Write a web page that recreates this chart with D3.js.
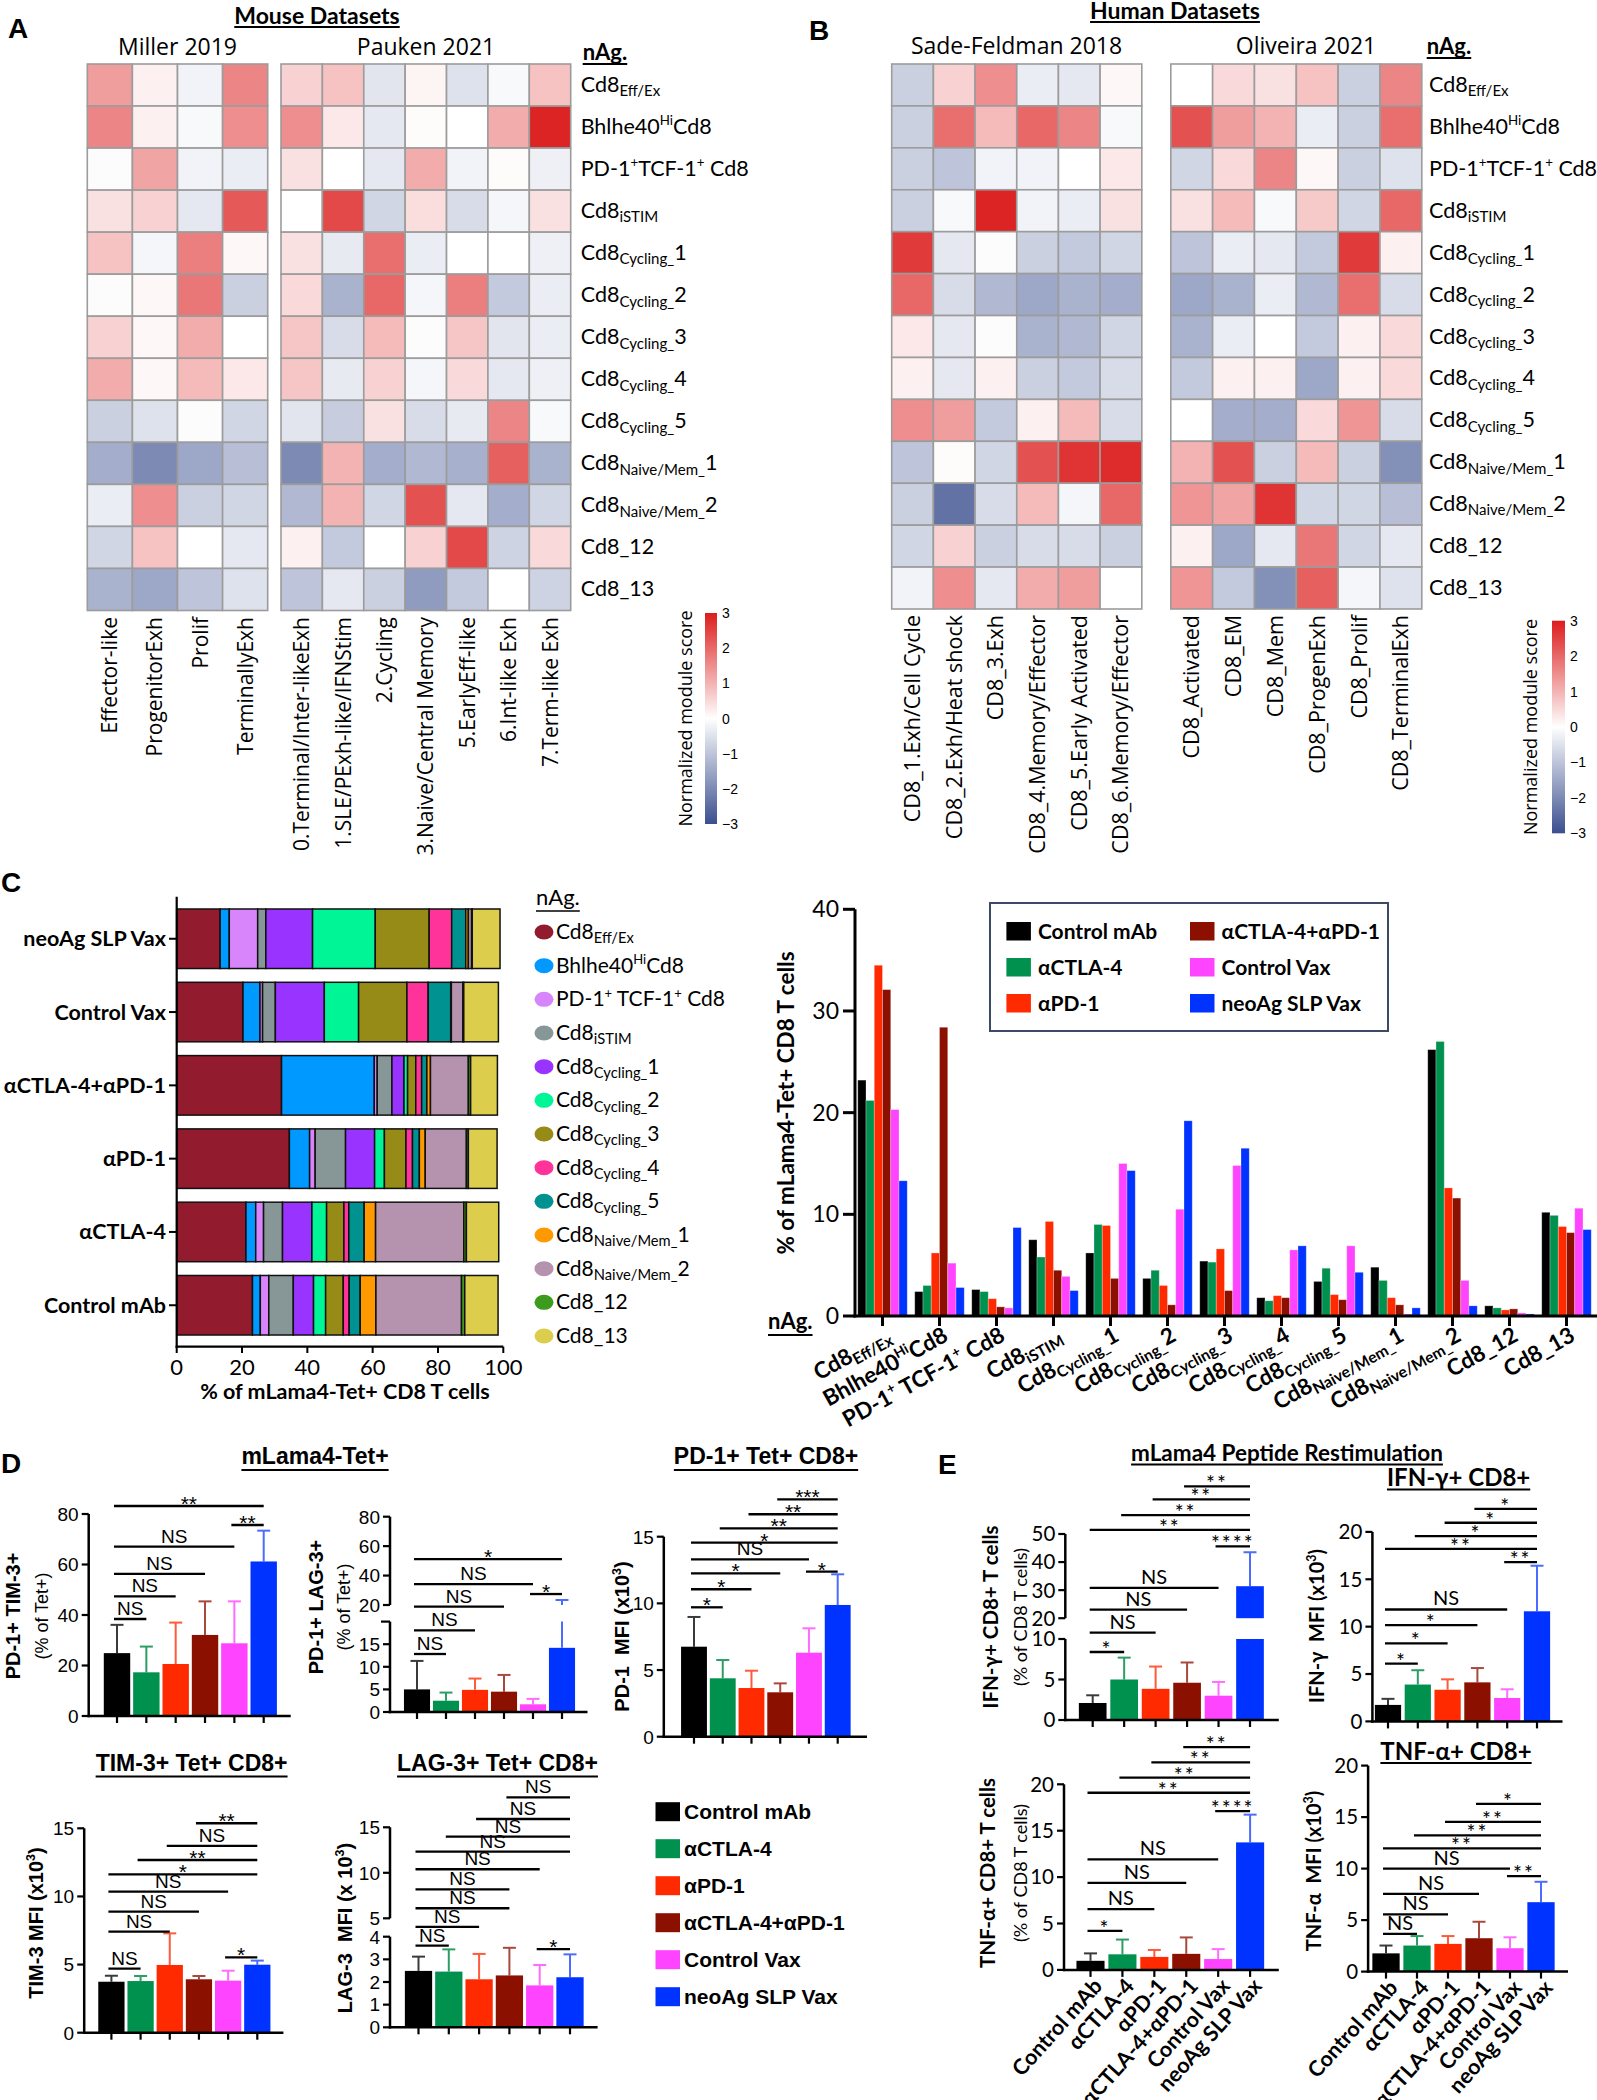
<!DOCTYPE html>
<html><head><meta charset="utf-8">
<script src="https://cdn.jsdelivr.net/npm/d3@7"></script>
<style>body{margin:0;background:#fff}svg{display:block}</style>
</head><body>
<svg id="fig" width="1597" height="2100"></svg>
<script>
// ================= DATA =================
const clusterLabels = ["Cd8_{Eff/Ex}","Bhlhe40^{Hi}Cd8","PD-1^{+}TCF-1^{+} Cd8","Cd8_{iSTIM}","Cd8_{Cycling_}1","Cd8_{Cycling_}2","Cd8_{Cycling_}3","Cd8_{Cycling_}4","Cd8_{Cycling_}5","Cd8_{Naive/Mem_}1","Cd8_{Naive/Mem_}2","Cd8_12","Cd8_13"];
const clusterLegendLabels = ["Cd8_{Eff/Ex}","Bhlhe40^{Hi}Cd8","PD-1^{+} TCF-1^{+} Cd8","Cd8_{iSTIM}","Cd8_{Cycling_}1","Cd8_{Cycling_}2","Cd8_{Cycling_}3","Cd8_{Cycling_}4","Cd8_{Cycling_}5","Cd8_{Naive/Mem_}1","Cd8_{Naive/Mem_}2","Cd8_12","Cd8_13"];

const millerColumns = ["Effector-like","ProgenitorExh","Prolif","TerminallyExh"];
const millerScores = [
 [1.3,0.2,-0.2,1.6],[1.6,0.2,-0.1,1.5],[-0.05,1.2,-0.2,-0.3],[0.4,0.6,-0.4,2.2],
 [0.8,-0.15,1.7,0.1],[-0.05,0.1,1.8,-0.8],[0.6,0.1,1.1,0.0],[1.1,0.1,0.9,0.3],
 [-0.8,-0.5,-0.05,-0.7],[-1.4,-2.0,-1.5,-1.1],[-0.3,1.5,-0.8,-0.7],[-0.7,0.8,0.0,-0.4],[-1.3,-1.5,-1.0,-0.5]];
const paukenColumns = ["0.Terminal/Inter-likeExh","1.SLE/PExh-like/IFNStim","2.Cycling","3.Naive/Central Memory","5.EarlyEff-like","6.Int-like Exh","7.Term-like Exh"];
const paukenScores = [
 [0.6,0.8,-0.45,0.15,-0.5,-0.1,0.8],[1.5,0.3,-0.4,0.05,0.0,1.1,2.9],[0.4,0.0,-0.4,1.1,-0.2,0.05,-0.25],
 [0.0,2.4,-0.7,0.45,-0.6,-0.15,0.4],[0.4,-0.35,1.9,-0.3,0.0,0.0,-0.25],[0.5,-1.3,2.0,-0.15,1.7,-0.9,-0.3],
 [0.75,-0.6,0.9,-0.05,0.75,-0.45,-0.3],[0.75,-0.35,0.6,-0.15,0.5,-0.4,-0.25],[-0.45,-0.85,0.4,-0.6,-0.35,1.6,-0.1],
 [-2.0,1.0,-1.4,-1.2,-1.35,2.1,-1.3],[-1.2,1.0,-0.7,2.3,-0.4,-1.4,-0.7],[0.2,-0.9,0.0,0.6,2.4,-0.75,0.5],
 [-1.0,-0.4,-0.8,-1.7,-0.9,0.0,-0.75]];
const sadeFeldmanColumns = ["CD8_1.Exh/Cell Cycle","CD8_2.Exh/Heat shock","CD8_3.Exh","CD8_4.Memory/Effector","CD8_5.Early Activated","CD8_6.Memory/Effector"];
const sadeFeldmanScores = [
 [-0.8,0.6,1.5,-0.3,-0.4,0.1],[-0.8,1.9,0.9,2.0,1.6,-0.1],[-0.8,-1.0,-0.2,-0.2,0.0,0.3],
 [-0.8,-0.1,2.9,-0.2,-0.3,0.4],[2.6,-0.4,-0.05,-0.8,-0.9,-0.7],[2.0,-0.6,-1.2,-1.5,-1.3,-1.4],
 [0.3,-0.4,-0.05,-1.3,-1.2,-0.7],[0.2,-0.4,0.2,-0.8,-0.9,-0.6],[1.5,1.3,-0.9,0.2,0.9,-0.6],
 [-1.0,0.05,-0.7,2.3,2.7,2.8],[-0.8,-2.4,-0.6,0.9,-0.15,2.0],[-0.7,0.6,-0.8,-0.6,-0.6,-0.8],
 [-0.2,1.5,-0.4,1.1,1.3,0.0]];
const oliveiraColumns = ["CD8_Activated","CD8_EM","CD8_Mem","CD8_ProgenExh","CD8_Prolif","CD8_TerminalExh"];
const oliveiraScores = [
 [0.0,0.5,0.4,0.8,-0.8,1.6],[2.3,1.3,1.0,-0.3,-0.8,1.9],[-0.7,0.5,1.6,0.1,-0.8,-0.5],
 [0.4,0.9,-0.1,0.7,-0.7,2.0],[-1.0,-0.3,-0.4,-0.9,2.6,0.2],[-1.5,-1.3,-0.3,-1.2,1.9,-0.6],
 [-1.3,-0.3,0.0,-0.9,0.2,0.5],[-0.9,0.2,0.2,-1.5,0.2,0.5],[0.0,-1.4,-1.4,0.5,1.4,-0.6],
 [1.0,2.3,-0.8,0.9,-0.8,-1.9],[1.4,1.2,2.7,-0.7,-0.7,-1.1],[0.2,-1.5,-0.4,1.8,-0.7,-0.4],
 [1.4,-0.9,-1.9,2.1,-0.15,-0.5]];
const colorbarTicks = [-3,-2,-1,0,1,2,3];

const groups = ["Control mAb","αCTLA-4","αPD-1","αCTLA-4+αPD-1","Control Vax","neoAg SLP Vax"];
// % of mLama4-Tet+ CD8 T cells per nAg cluster
const pctControlMab  = [23.2,2.4,2.6,7.5,6.2,3.7,5.4,1.8,3.4,4.8,26.2,1.0,10.2];
const pctCTLA4       = [21.2,3.0,2.4,5.8,9.0,4.5,5.3,1.5,4.7,3.5,27.0,0.8,9.9];
const pctPD1         = [34.5,6.2,1.7,9.3,8.9,3.0,6.6,2.0,2.1,1.8,12.6,0.6,8.8];
const pctCombo       = [32.1,28.4,0.9,4.5,3.7,1.1,2.5,1.8,1.6,1.1,11.6,0.7,8.2];
const pctControlVax  = [20.3,5.2,0.8,3.9,15.0,10.5,14.8,6.5,6.9,0.2,3.5,0.3,10.6];
const pctNeoAgVax    = [13.3,2.8,8.7,2.5,14.3,19.2,16.5,6.9,4.3,0.8,1.0,0.2,8.5];
const stackedTicks = [0,20,40,60,80,100];
const groupedTicks = [0,10,20,30,40];

// Panel D / E : mean and SD; significance = [from, to, label, tier]
const pd1Tim3Mean = [24.9,17.3,20.6,32.1,28.8,61.2];
const pd1Tim3Err  = [11.2,10.2,16.4,13.3,16.6,12.2];
const pd1Tim3Sig  = [[0,1,"NS",0],[0,2,"NS",1],[0,3,"NS",2],[0,4,"NS",3.2],[4,5,"**",4.16],[0,5,"**",5]];
const pd1Lag3Mean = [5.0,2.5,4.9,4.5,1.7,14.2];
const pd1Lag3Err  = [6.3,1.8,2.5,3.7,1.2,9.2];
const pd1Lag3Sig  = [[0,1,"NS",0],[0,2,"NS",1],[0,3,"NS",2],[4,5,"*",2.53],[0,4,"NS",2.95],[0,5,"*",4]];
const pd1MfiMean  = [6.75,4.38,3.65,3.33,6.3,9.88];
const pd1MfiErr   = [2.23,1.37,1.3,0.67,1.83,2.3];
const pd1MfiSig   = [[0,1,"*",0],[0,2,"*",1.17],[0,3,"*",2.2],[4,5,"*",2.31],[0,4,"NS",3.11],[0,5,"*",4.19],[1,5,"**",5.12],[2,5,"**",6.03],[3,5,"***",7]];
const tim3MfiMean = [3.74,3.79,4.97,3.92,3.82,4.99];
const tim3MfiErr  = [0.44,0.37,2.32,0.24,0.73,0.3];
const tim3MfiSig  = [[0,1,"NS",0],[4,5,"*",0.63],[0,2,"NS",2.06],[0,3,"NS",3.17],[0,4,"NS",4.28],[0,5,"*",5.24],[1,5,"**",6.04],[2,5,"NS",6.82],[3,5,"**",8.08]];
const lag3MfiMean = [2.49,2.46,2.12,2.29,1.85,2.21];
const lag3MfiErr  = [0.63,0.98,1.12,1.22,0.9,1.01];
const lag3MfiSig  = [[0,1,"NS",0],[4,5,"*",-0.19],[0,2,"NS",1.02],[0,3,"NS",2.02],[0,3,"NS",3.04],[0,4,"NS",4.12],[0,5,"NS",5.07],[1,5,"NS",5.88],[2,5,"NS",6.83],[3,5,"NS",8]];
const ifngPctMean = [2.1,5.0,3.85,4.6,3.0,31.4];
const ifngPctErr  = [0.95,2.7,2.75,2.5,1.7,12.1];
const ifngPctSig  = [[0,1,"*",0],[0,2,"NS",0.91],[0,3,"NS",1.98],[0,4,"NS",3],[4,5,"****",4.94],[0,5,"**",5.71],[1,5,"**",6.4],[2,5,"**",7.13],[3,5,"**",7.74]];
const ifngMfiMean = [1.74,3.89,3.34,4.12,2.47,11.62];
const ifngMfiErr  = [0.64,1.51,1.1,1.51,0.92,4.81];
const ifngMfiSig  = [[0,1,"*",0],[0,2,"*",1.1],[0,3,"*",2.09],[0,4,"NS",2.93],[4,5,"**",5.49],[0,5,"**",6.21],[1,5,"*",6.9],[2,5,"*",7.62],[3,5,"*",8.37]];
const tnfPctMean  = [0.98,1.68,1.4,1.73,1.17,13.74];
const tnfPctErr   = [0.8,1.59,0.75,1.77,1.07,2.99];
const tnfPctSig   = [[0,1,"*",0],[0,2,"NS",0.91],[0,3,"NS",2.01],[0,4,"NS",3],[4,5,"****",5.03],[0,5,"**",5.8],[1,5,"**",6.44],[2,5,"**",7.08],[3,5,"**",7.72]];
const tnfMfiMean  = [1.77,2.53,2.69,3.24,2.27,6.74];
const tnfMfiErr   = [0.76,0.92,0.76,1.6,1.06,1.98];
const tnfMfiSig   = [[0,1,"NS",0],[0,2,"NS",0.98],[0,3,"NS",2],[4,5,"**",2.89],[0,4,"NS",3.26],[0,5,"**",4.28],[1,5,"**",4.93],[2,5,"**",5.6],[3,5,"*",6.5]];

// ================= STYLE =================
const F_CAL = "Lato, 'Open Sans', sans-serif";
const F_ARIAL = "'Liberation Sans', Arial, sans-serif";
const F_HEAT = "'Open Sans', 'DejaVu Sans', sans-serif";
const groupColors = ["#000000","#00914f","#ff2a00","#8c1000","#ff44ff","#0033ff"];
const errColors = ["#3a3a3a","#2c9e64","#ff5a3c","#a8493e","#ff6cff","#4a6cff"];
const clusterColors = ["#931b2e","#0099ff","#d884fb","#879797","#9933ff","#00f596","#968b17","#ff3399","#009191","#ff9900","#b593ae","#3c9a1c","#ddcd4c"];
const heatColor = d3.scaleLinear().domain([-3,0,3]).range(["#3b4f8f","#ffffff","#dc1c1c"]).clamp(true);

const svg = d3.select("#fig");
svg.append("rect").attr("width",1597).attr("height",2100).attr("fill","#fff");

function rich(t, markup, fs, subScale) {
  const parts = markup.split(/(_\{[^}]*\}|\^\{[^}]*\})/).filter(s => s.length);
  let shift = 0;
  parts.forEach(p => {
    let s = p, size = null, target = 0;
    if (p.startsWith("_{")) { s = p.slice(2,-1); size = fs*(subScale || 0.68); target = fs*0.2; }
    else if (p.startsWith("^{")) { s = p.slice(2,-1); size = fs*0.62; target = -fs*0.4; }
    const ts = t.append("tspan").text(s).attr("dy", (target - shift).toFixed(2));
    if (size) ts.attr("font-size", size.toFixed(2));
    shift = target;
  });
}
function addText(parent, x, y, str, o = {}) {
  const fs = o.size || 20;
  const t = parent.append("text")
    .attr("font-family", o.family || F_CAL).attr("font-size", fs)
    .attr("font-weight", o.weight || 400).attr("text-anchor", o.anchor || "start")
    .attr("fill", "#000").style("white-space", "pre");
  if (o.rotate !== undefined) t.attr("transform", `translate(${x},${y}) rotate(${o.rotate})`);
  else t.attr("x", x).attr("y", y);
  if (o.ls) t.attr("letter-spacing", o.ls);
  if (o.rich) rich(t, str, fs, o.subScale); else t.text(str);
  return t;
}
function line(parent, x1, y1, x2, y2, w = 2, c = "#000") {
  return parent.append("line").attr("x1",x1).attr("y1",y1).attr("x2",x2).attr("y2",y2)
    .attr("stroke", c).attr("stroke-width", w);
}
function underline(parent, t, y, w = 2) {
  const b = t.node().getBBox();
  line(parent, b.x, y, b.x + b.width, y, w);
}

// ================= PANEL LETTERS =================
[["A",8,38],["B",809,40],["C",1,892],["D",1,1473],["E",938,1474]].forEach(([s,x,y]) =>
  addText(svg, x, y, s, {family: F_ARIAL, weight: 700, size: 28}));

// ================= HEATMAPS =================
function drawHeat(cols, scores, x0, x1, y0, y1, labelTop, labelSize) {
  const xs = d3.scaleBand().domain(d3.range(cols.length)).range([x0, x1]);
  const ys = d3.scaleBand().domain(d3.range(scores.length)).range([y0, y1]);
  const g = svg.append("g");
  scores.forEach((row, r) => {
    g.selectAll(null).data(row).join("rect")
      .attr("x", (d, c) => xs(c)).attr("y", ys(r))
      .attr("width", xs.bandwidth()).attr("height", ys.bandwidth())
      .attr("fill", d => heatColor(d)).attr("stroke", "#9c9c9c").attr("stroke-width", 1.6);
  });
  cols.forEach((c, i) => addText(g, xs(i) + xs.bandwidth()/2 + 7.5, labelTop, c,
    {family: F_HEAT, size: labelSize, anchor: "end", rotate: -90}));
  return ys;
}
function colorbar(id, x, y0, y1, w, titleX) {
  const g = svg.append("g");
  const grad = svg.append("defs").append("linearGradient").attr("id", id)
    .attr("x1",0).attr("y1",1).attr("x2",0).attr("y2",0);
  d3.range(-3, 3.01, 0.5).forEach(v => grad.append("stop")
    .attr("offset", (v + 3) / 6).attr("stop-color", heatColor(v)));
  g.append("rect").attr("x", x).attr("y", y0).attr("width", w).attr("height", y1 - y0).attr("fill", `url(#${id})`);
  const s = d3.scaleLinear().domain([-3, 3]).range([y1, y0]);
  colorbarTicks.forEach(v => addText(g, x + w + 5, s(v) + 5, d3.format("d")(v), {family: F_ARIAL, size: 14}));
  addText(g, titleX + 6, (y0 + y1) / 2, "Normalized module score", {family: F_HEAT, size: 18, anchor: "middle", rotate: -90});
}

// Panel A
let t = addText(svg, 317, 24, "Mouse Datasets", {weight: 700, size: 23, anchor: "middle"});
underline(svg, t, 27);
addText(svg, 177.5, 55, "Miller 2019", {family: F_HEAT, size: 23, anchor: "middle"});
addText(svg, 426, 55, "Pauken 2021", {family: F_HEAT, size: 23, anchor: "middle"});
drawHeat(millerColumns, millerScores, 87.3, 267.7, 64, 610.5, 617, 21);
let ysA = drawHeat(paukenColumns, paukenScores, 281, 570.7, 64, 610.5, 617, 21);
t = addText(svg, 582.7, 60, "nAg.", {weight: 700, size: 22});
underline(svg, t, 64);
clusterLabels.forEach((l, r) => addText(svg, 580.7, ysA(r) + ysA.bandwidth()/2 + 7, l, {size: 21.5, rich: true, subScale: 0.7}));
colorbar("cbA", 705, 613, 824, 12, 686);

// Panel B
t = addText(svg, 1175, 19, "Human Datasets", {weight: 700, size: 23, anchor: "middle"});
underline(svg, t, 22);
addText(svg, 1016.5, 54, "Sade-Feldman 2018", {family: F_HEAT, size: 23, anchor: "middle"});
addText(svg, 1306, 54, "Oliveira 2021", {family: F_HEAT, size: 23, anchor: "middle"});
drawHeat(sadeFeldmanColumns, sadeFeldmanScores, 891.7, 1141.8, 64, 609, 615, 21.5);
let ysB = drawHeat(oliveiraColumns, oliveiraScores, 1170.8, 1421.8, 64, 609, 615, 21.5);
t = addText(svg, 1426.7, 54, "nAg.", {weight: 700, size: 22});
underline(svg, t, 58);
clusterLabels.forEach((l, r) => addText(svg, 1429, ysB(r) + ysB.bandwidth()/2 + 7, l, {size: 21.5, rich: true, subScale: 0.7}));
colorbar("cbB", 1552, 620.7, 833.3, 13, 1530.5);

// ================= PANEL C: stacked =================
const groupPct = [pctControlMab, pctCTLA4, pctPD1, pctCombo, pctControlVax, pctNeoAgVax];
{
  const g = svg.append("g");
  const xS = d3.scaleLinear().domain([0, 100]).range([176.7, 503.3]);
  const order = groups.slice().reverse();
  const yB = d3.scaleBand().domain(order).range([902.1, 1341.9]).paddingInner(0.188).paddingOuter(0.094);
  groups.forEach((grp, gi) => {
    let acc = 0;
    groupPct[gi].forEach((v, k) => {
      g.append("rect").attr("x", xS(acc)).attr("y", yB(grp))
        .attr("width", xS(acc + v) - xS(acc)).attr("height", yB.bandwidth())
        .attr("fill", clusterColors[k]).attr("stroke", "#111").attr("stroke-width", 1.5);
      acc += v;
    });
    const yc = yB(grp) + yB.bandwidth()/2;
    line(g, 169, yc, 176.7, yc, 2);
    addText(g, 166, yc + 7.5, grp, {weight: 700, size: 21.5, anchor: "end"});
  });
  line(g, 176.7, 896.7, 176.7, 1347.7, 2.2);
  line(g, 175.6, 1346.7, 503.3, 1346.7, 2.2);
  stackedTicks.forEach(v => {
    line(g, xS(v), 1346.7, xS(v), 1353, 2);
    addText(g, xS(v), 1374.5, String(v), {size: 22, anchor: "middle"});
  });
  addText(g, 345, 1399, "% of mLama4-Tet+ CD8 T cells", {weight: 700, size: 21.5, anchor: "middle"});

  // cluster legend
  t = addText(g, 536, 905, "nAg.", {size: 22});
  underline(g, t, 911, 1.6);
  const yL = d3.scalePoint().domain(d3.range(13)).range([932, 1336]);
  clusterLegendLabels.forEach((l, k) => {
    g.append("ellipse").attr("cx", 544).attr("cy", yL(k)).attr("rx", 9.5).attr("ry", 7.5).attr("fill", clusterColors[k]);
    addText(g, 556, yL(k) + 7, l, {size: 21, rich: true, subScale: 0.7});
  });
}

// ================= PANEL C: grouped =================
{
  const g = svg.append("g");
  const xC = d3.scalePoint().domain(d3.range(13)).range([882.5, 1566.5]);
  const inner = d3.scaleBand().domain(d3.range(6)).range([-24.75, 24.75]);
  const yS = d3.scaleLinear().domain([0, 40]).range([1316, 909.3]);
  groupPct.forEach((arr, gi) => {
    g.selectAll(null).data(arr).join("rect")
      .attr("x", (d, k) => xC(k) + inner(gi)).attr("y", d => yS(d))
      .attr("width", inner.bandwidth()).attr("height", d => yS(0) - yS(d))
      .attr("fill", groupColors[gi]).attr("stroke", "#ffffff").attr("stroke-opacity", 0.35).attr("stroke-width", 0.8);
  });
  line(g, 855, 909.3, 855, 1317.5, 3);
  line(g, 853.5, 1316, 1597, 1316, 3);
  groupedTicks.forEach(v => {
    line(g, 843, yS(v), 855, yS(v), 3);
    addText(g, 839, yS(v) + 8, String(v), {size: 23, anchor: "end"});
  });
  d3.range(13).forEach(k => {
    line(g, xC(k), 1316, xC(k), 1326, 3);
    addText(g, xC(k) + 10, 1340, clusterLegendLabels[k], {weight: 700, size: 22.5, anchor: "end", rotate: -29, rich: true, subScale: 0.7});
  });
  addText(g, 794, 1103, "% of mLama4-Tet+ CD8 T cells", {weight: 700, size: 22.5, anchor: "middle", rotate: -90});
  t = addText(g, 768, 1329, "nAg.", {weight: 700, size: 22});
  underline(g, t, 1335);
  // legend box
  g.append("rect").attr("x", 990).attr("y", 903).attr("width", 398).attr("height", 128)
    .attr("fill", "#fff").attr("stroke", "#3d4a66").attr("stroke-width", 2);
  const yLeg = d3.scalePoint().domain(d3.range(3)).range([931, 1003]);
  groups.forEach((grp, gi) => {
    const col = Math.floor(gi / 3), row = gi % 3;
    const sx = col === 0 ? 1006.4 : 1190;
    g.append("rect").attr("x", sx).attr("y", yLeg(row) - 9).attr("width", 24.5).attr("height", 18.5).attr("fill", groupColors[gi]);
    addText(g, sx + 31.5, yLeg(row) + 7.5, grp, {weight: 700, size: 21});
  });
}

// ================= PANELS D & E =================
function barPanel(cfg) {
  const g = svg.append("g");
  const xP = d3.scalePoint().domain(d3.range(6)).range([cfg.c0, cfg.c5]);
  const bw = xP.step() * (cfg.barFrac || 0.9);
  const segs = cfg.segs.map(s => Object.assign({}, s, {sc: d3.scaleLinear().domain(s.d).range(s.r)}));
  const y0 = segs[0].sc(0);
  const fam = cfg.family;
  cfg.means.forEach((m, i) => {
    const top = m + cfg.errs[i];
    segs.forEach(s => {
      const a = Math.max(m, s.d[0]), b = Math.min(top, s.d[1]);
      if (b > a) line(g, xP(i), s.sc(a), xP(i), s.sc(b), 2, errColors[i]);
      if (top >= s.d[0] && top <= s.d[1]) line(g, xP(i) - 6.5, s.sc(top), xP(i) + 6.5, s.sc(top), 2, errColors[i]);
    });
  });
  cfg.means.forEach((m, i) => {
    segs.forEach(s => {
      if (m > s.d[0]) {
        const tp = Math.min(m, s.d[1]);
        g.append("rect").attr("x", xP(i) - bw/2).attr("y", s.sc(tp))
          .attr("width", bw).attr("height", s.sc(s.d[0]) - s.sc(tp)).attr("fill", groupColors[i]);
      }
    });
  });
  segs.forEach(s => {
    line(g, cfg.axisX, s.sc(s.d[0]) + (s.d[0] === 0 ? 1.2 : 0), cfg.axisX, s.sc(s.d[1]), 2.5);
    s.ticks.forEach(v => {
      line(g, cfg.axisX - 7, s.sc(v), cfg.axisX, s.sc(v), 2.2);
      addText(g, cfg.axisX - 10, s.sc(v) + cfg.tickSize * 0.36, String(v), {family: fam, size: cfg.tickSize, anchor: "end"});
    });
    (s.extra || []).forEach(v => line(g, cfg.axisX - 9, s.sc(v), cfg.axisX, s.sc(v), 2.2));
  });
  line(g, cfg.axisX - 1.2, y0, cfg.axisEnd, y0, 2.5);
  d3.range(6).forEach(i => line(g, xP(i), y0, xP(i), y0 + 7, 2.2));
  cfg.sig.forEach(([a, b, lab, tier]) => {
    const y = cfg.sigBase - tier * cfg.sigStep;
    const x1 = xP(a) - 3, x2 = xP(b);
    line(g, x1, y, x2, y, 2.3);
    if (lab === "NS") addText(g, (x1 + x2)/2, y - 4, lab, {family: fam, size: cfg.nsSize || 19, anchor: "middle"});
    else addText(g, (x1 + x2)/2, y + 5, lab, {family: fam, size: cfg.starSize || 21, anchor: "middle", ls: cfg.starLs || 0});
  });
  cfg.titles.forEach(tt => addText(g, tt.x + tt.size * 0.35, cfg.titleY, tt.t,
    {family: fam, size: tt.size, weight: tt.bold ? 700 : 400, anchor: "middle", rotate: -90, rich: true}));
  if (cfg.xLabels) groups.forEach((grp, i) =>
    addText(g, xP(i) + 13, y0 + 17, grp, {family: fam, weight: 700, size: 21.5, anchor: "end", rotate: -48}));
}

// D titles
t = addText(svg, 315, 1464, "mLama4-Tet+", {family: F_ARIAL, weight: 700, size: 23, anchor: "middle"}); underline(svg, t, 1470);
t = addText(svg, 766, 1464, "PD-1+ Tet+ CD8+", {family: F_ARIAL, weight: 700, size: 23, anchor: "middle"}); underline(svg, t, 1470);
t = addText(svg, 191.6, 1771, "TIM-3+ Tet+ CD8+", {family: F_ARIAL, weight: 700, size: 23, anchor: "middle"}); underline(svg, t, 1776.5);
t = addText(svg, 497.5, 1771, "LAG-3+ Tet+ CD8+", {family: F_ARIAL, weight: 700, size: 23, anchor: "middle"}); underline(svg, t, 1776.5);

const dBase = {family: F_ARIAL, tickSize: 19, barFrac: 0.9};
barPanel(Object.assign({}, dBase, {means: pd1Tim3Mean, errs: pd1Tim3Err, sig: pd1Tim3Sig, c0: 117, c5: 263.7,
  axisX: 88.7, axisEnd: 290.7, segs: [{d: [0, 80], r: [1716, 1514], ticks: [0, 20, 40, 60, 80]}],
  sigBase: 1619, sigStep: 22.6, titleY: 1616,
  titles: [{t: "PD-1+ TIM-3+", bold: true, x: 12.5, size: 20}, {t: "(% of Tet+)", bold: false, x: 42, size: 18}]}));
barPanel(Object.assign({}, dBase, {means: pd1Lag3Mean, errs: pd1Lag3Err, sig: pd1Lag3Sig, c0: 417, c5: 562,
  axisX: 390, axisEnd: 587.5,
  segs: [{d: [0, 20], r: [1712, 1621.6], ticks: [0, 5, 10, 15], extra: [20]}, {d: [20, 80], r: [1605, 1516.7], ticks: [20, 40, 60, 80]}],
  sigBase: 1654, sigStep: 23.7, titleY: 1607,
  titles: [{t: "PD-1+ LAG-3+", bold: true, x: 316, size: 20}, {t: "(% of Tet+)", bold: false, x: 344, size: 18}]}));
barPanel(Object.assign({}, dBase, {means: pd1MfiMean, errs: pd1MfiErr, sig: pd1MfiSig, c0: 694, c5: 837.7,
  axisX: 663.8, axisEnd: 867, segs: [{d: [0, 15], r: [1736.7, 1536.7], ticks: [0, 5, 10, 15]}],
  sigBase: 1607.3, sigStep: 15.43, titleY: 1636.5,
  titles: [{t: "PD-1  MFI (x10^{3})", bold: true, x: 621.5, size: 20}]}));
barPanel(Object.assign({}, dBase, {means: tim3MfiMean, errs: tim3MfiErr, sig: tim3MfiSig, c0: 111.4, c5: 257.3,
  axisX: 84.2, axisEnd: 283.4, segs: [{d: [0, 15], r: [2032.7, 1828.3], ticks: [0, 5, 10, 15]}],
  sigBase: 1968.7, sigStep: 18, titleY: 1923,
  titles: [{t: "TIM-3 MFI (x10^{3})", bold: true, x: 36, size: 20}]}));
barPanel(Object.assign({}, dBase, {means: lag3MfiMean, errs: lag3MfiErr, sig: lag3MfiSig, c0: 418.5, c5: 570,
  axisX: 390, axisEnd: 597.6,
  segs: [{d: [0, 4], r: [2027.3, 1936.7], ticks: [0, 1, 2, 3, 4]}, {d: [5, 15], r: [1918.3, 1827.3], ticks: [5, 10, 15]}],
  sigBase: 1945.7, sigStep: 18.55, titleY: 1928,
  titles: [{t: "LAG-3  MFI (x 10^{3})", bold: true, x: 344.5, size: 20}]}));

// D legend
{
  const yD = d3.scalePoint().domain(d3.range(6)).range([1811.7, 1996.7]);
  groups.forEach((grp, i) => {
    svg.append("rect").attr("x", 655.5).attr("y", yD(i) - 9.5).attr("width", 24.5).attr("height", 19).attr("fill", groupColors[i]);
    addText(svg, 684, yD(i) + 7.5, grp, {family: F_ARIAL, weight: 700, size: 21});
  });
}

// E titles
t = addText(svg, 1287, 1461, "mLama4 Peptide Restimulation", {weight: 700, size: 22.5, anchor: "middle"}); underline(svg, t, 1464.5);
t = addText(svg, 1458.6, 1486, "IFN-γ+ CD8+", {weight: 700, size: 24, anchor: "middle"}); underline(svg, t, 1489.5);
t = addText(svg, 1456, 1759.5, "TNF-α+ CD8+", {weight: 700, size: 24, anchor: "middle"}); underline(svg, t, 1763);

const eBase = {family: F_CAL, tickSize: 20.5, barFrac: 0.88, nsSize: 20, starSize: 21, starLs: 2};
barPanel(Object.assign({}, eBase, {means: ifngPctMean, errs: ifngPctErr, sig: ifngPctSig, c0: 1092.7, c5: 1250,
  axisX: 1065.3, axisEnd: 1278.8,
  segs: [{d: [0, 10], r: [1720, 1639], ticks: [0, 5, 10]}, {d: [20, 50], r: [1618.2, 1534], ticks: [20, 30, 40, 50]}],
  sigBase: 1652, sigStep: 21.4, titleY: 1617,
  titles: [{t: "IFN-γ+ CD8+ T cells", bold: true, x: 990.6, size: 20.5}, {t: "(% of CD8 T cells)", bold: false, x: 1020.5, size: 18}]}));
barPanel(Object.assign({}, eBase, {means: ifngMfiMean, errs: ifngMfiErr, sig: ifngMfiSig, c0: 1388, c5: 1537,
  axisX: 1372.4, axisEnd: 1562.5, segs: [{d: [0, 20], r: [1721.4, 1531.9], ticks: [0, 5, 10, 15, 20]}],
  sigBase: 1663.7, sigStep: 18.5, titleY: 1626,
  titles: [{t: "IFN-γ  MFI (x10^{3})", bold: true, x: 1316.7, size: 20}]}));
barPanel(Object.assign({}, eBase, {means: tnfPctMean, errs: tnfPctErr, sig: tnfPctSig, c0: 1090.5, c5: 1250.1,
  axisX: 1064, axisEnd: 1278.8, segs: [{d: [0, 20], r: [1969.9, 1784.3], ticks: [0, 5, 10, 15, 20]}],
  sigBase: 1930.8, sigStep: 23.8, titleY: 1873, xLabels: true,
  titles: [{t: "TNF-α+ CD8+ T cells", bold: true, x: 988, size: 20.5}, {t: "(% of CD8 T cells)", bold: false, x: 1020.5, size: 18}]}));
barPanel(Object.assign({}, eBase, {means: tnfMfiMean, errs: tnfMfiErr, sig: tnfMfiSig, c0: 1386, c5: 1541,
  axisX: 1368.1, axisEnd: 1568, segs: [{d: [0, 20], r: [1971.6, 1765.6], ticks: [0, 5, 10, 15, 20]}],
  sigBase: 1933.9, sigStep: 20, titleY: 1871, xLabels: true,
  titles: [{t: "TNF-α  MFI (x10^{3})", bold: true, x: 1314, size: 20}]}));
</script>
</body></html>
